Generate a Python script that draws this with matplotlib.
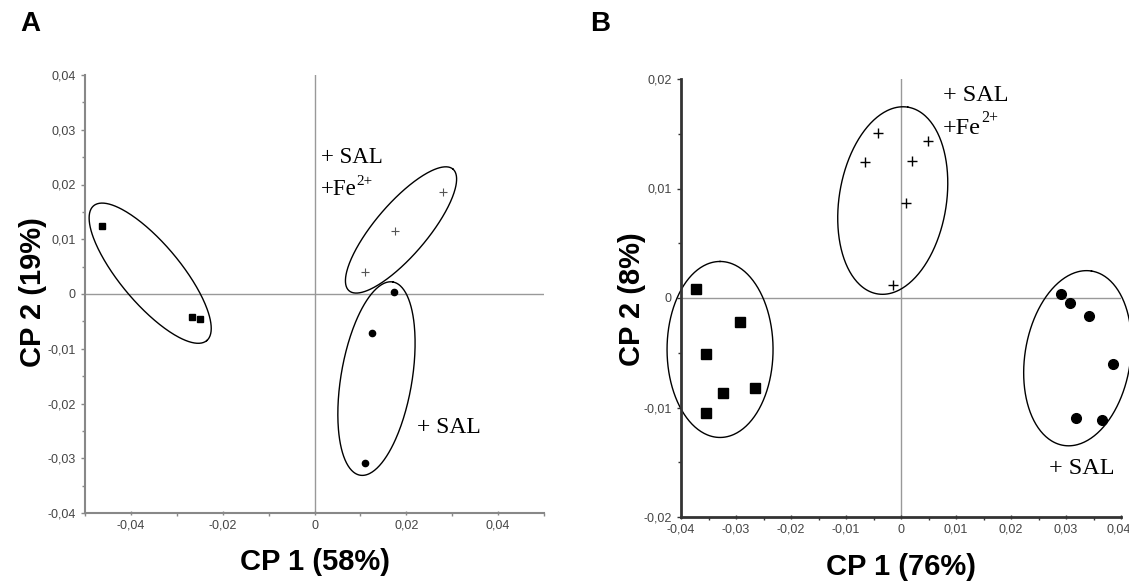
import numpy as np
import matplotlib
matplotlib.use("Agg")
import matplotlib.pyplot as plt
from matplotlib.ticker import MultipleLocator, FuncFormatter
from matplotlib.transforms import ScaledTranslation

plt.rcParams['font.family'] = ['Liberation Sans', 'DejaVu Sans']

# panel A scores
a_sq_x = [-0.0462, -0.0267, -0.0250]
a_sq_y = [0.0124, -0.0042, -0.0046]
a_cr_x = [0.0110, 0.0175, 0.0279]
a_cr_y = [0.0041, 0.0115, 0.0186]
a_ci_x = [0.0174, 0.0126, 0.0109]
a_ci_y = [0.0003, -0.0071, -0.0309]

# panel B scores
b_sq_x = [-0.0373, -0.0293, -0.0354, -0.0324, -0.0266, -0.0354]
b_sq_y = [0.0008, -0.0022, -0.0051, -0.0087, -0.0082, -0.0105]
b_cr_x = [-0.0042, -0.0066, 0.0049, 0.0020, 0.0009, -0.0015]
b_cr_y = [0.0151, 0.0124, 0.0143, 0.0125, 0.0087, 0.0012]
b_ci_x = [0.0290, 0.0307, 0.0341, 0.0386, 0.0318, 0.0365]
b_ci_y = [0.0004, -0.0005, -0.0016, -0.0060, -0.0110, -0.0111]

# group ellipses: centre (data), semi axes (px), angle (deg)
a_ell = [(-0.0358, 0.0038, 88, 30, -50),
         (0.01885, 0.0117, 80, 26, 49.5),
         (0.0135, -0.01545, 98, 35.5, 80.4)]
b_ell = [(-0.0329, -0.0047, 88, 53, 90),
         (-0.0015, 0.0089, 94.6, 53.6, 80.8),
         (0.0321, -0.0055, 88.3, 52.7, 80.9)]

W, H = 1129, 581


def comma(v, pos):
    if abs(v) < 1e-9:
        return '0'
    return ('%.2f' % v).replace('.', ',')


def draw_ellipse(ax, cx, cy, a, b, ang):
    t = np.linspace(0, 2*np.pi, 300)
    c = ax.transData.transform((cx, cy))
    r = np.radians(ang)
    px = c[0] + a*np.cos(t)*np.cos(r) - b*np.sin(t)*np.sin(r)
    py = c[1] + a*np.cos(t)*np.sin(r) + b*np.sin(t)*np.cos(r)
    pts = ax.transData.inverted().transform(np.column_stack([px, py]))
    ax.plot(pts[:, 0], pts[:, 1], color='black', lw=1, clip_on=False)


def setup(ax, xlim, ylim, xmaj, xmin, ymaj, ymin, spine_col, spine_lw):
    ax.set_xlim(xlim)
    ax.set_ylim(ylim)
    for s in ['top', 'right']:
        ax.spines[s].set_visible(False)
    for s in ['left', 'bottom']:
        ax.spines[s].set_color(spine_col)
        ax.spines[s].set_linewidth(spine_lw)
    ax.xaxis.set_major_locator(MultipleLocator(xmaj))
    ax.xaxis.set_minor_locator(MultipleLocator(xmin))
    ax.yaxis.set_major_locator(MultipleLocator(ymaj))
    ax.yaxis.set_minor_locator(MultipleLocator(ymin))
    ax.xaxis.set_major_formatter(FuncFormatter(comma))
    ax.yaxis.set_major_formatter(FuncFormatter(comma))
    ax.tick_params(which='both', colors=spine_col, labelcolor='#444444',
                   labelsize=9, width=1)
    ax.tick_params(which='major', length=3)
    ax.tick_params(which='minor', length=2)
    ax.tick_params(axis='x', direction='inout')
    ax.tick_params(axis='y', direction='out')
    ax.axhline(0, color='#999999', lw=1, zorder=0)
    ax.axvline(0, color='#999999', lw=1, zorder=0)


def fe_label(ax, x, y, size):
    t = ax.text(x, y, '+Fe', fontsize=size, family='Liberation Serif',
                va='center', ha='left')
    ax.annotate('2+', xy=(1, 0.6), xycoords=t, fontsize=size*0.66,
                family='Liberation Serif', va='bottom', ha='left')


fig = plt.figure(figsize=(W/100, H/100), dpi=100)

axA = fig.add_axes([85/W, (H-513)/H, 459/W, 438/H])
setup(axA, (-0.05, 0.05), (-0.04, 0.04), 0.02, 0.01, 0.01, 0.005, '#888888', 1.5)
axA.plot(a_sq_x, a_sq_y, 's', color='black', ms=5)
axA.plot(a_cr_x, a_cr_y, '+', color='#555555', ms=6, mew=0.8)
axA.plot(a_ci_x, a_ci_y, 'o', color='black', ms=4.5)
axA.text(0.0014, 0.0249, '+ SAL', fontsize=16.5, family='Liberation Serif', va='center')
fe_label(axA, 0.0014, 0.0190, 16.5)
axA.text(0.0223, -0.0243, '+ SAL', fontsize=17, family='Liberation Serif', va='center')

axB = fig.add_axes([681/W, (H-517)/H, 440/W, 438/H])
setup(axB, (-0.04, 0.04), (-0.02, 0.02), 0.01, 0.005, 0.01, 0.005, '#333333', 2)
axB.plot(b_sq_x, b_sq_y, 's', color='black', ms=7)
axB.plot(b_cr_x, b_cr_y, '+', color='black', ms=7, mew=1)
axB.plot(b_ci_x, b_ci_y, 'o', color='black', ms=7)
axB.text(0.0076, 0.0185, '+ SAL', fontsize=17.5, family='Liberation Serif', va='center')
fe_label(axB, 0.0076, 0.0155, 17.5)
axB.text(0.0269, -0.0156, '+ SAL', fontsize=17.5, family='Liberation Serif', va='center')

for e in a_ell:
    draw_ellipse(axA, *e)
for e in b_ell:
    draw_ellipse(axB, *e)

lab = dict(fontsize=21, fontweight='bold', ha='center', va='center')
fig.text(314.5/W, 1-562/H, 'CP 1 (58%)', **lab)
fig.text(901/W, 1-567/H, 'CP 1 (76%)', **lab)
fig.text(33/W, 1-292/H, 'CP 2 (19%)', rotation=90, **lab)
fig.text(632/W, 1-299/H, 'CP 2 (8%)', rotation=90, **lab)
fig.text(30/W, 1-24/H, 'A', fontsize=20, fontweight='bold', ha='center', va='center')
fig.text(600/W, 1-24/H, 'B', fontsize=20, fontweight='bold', ha='center', va='center')

# keep the last x tick label of panel B inside the figure
fig.canvas.draw()
for tick in axB.xaxis.get_major_ticks():
    if tick.label1.get_text() == '0,04':
        tick.label1.set_horizontalalignment('right')
        tick.label1.set_transform(tick.label1.get_transform() +
                                  ScaledTranslation(7/72, 0, fig.dpi_scale_trans))

fig.savefig('out.png', dpi=100)
